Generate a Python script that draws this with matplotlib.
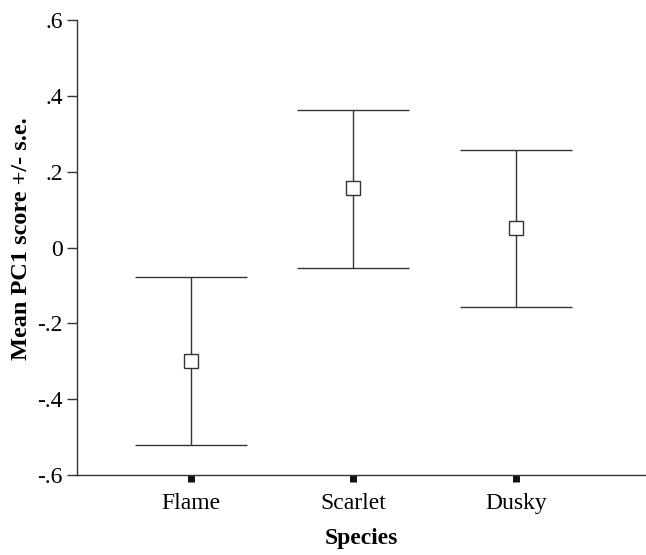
import numpy as np
import matplotlib.pyplot as plt

plt.rcParams['font.family'] = ['Liberation Serif', 'DejaVu Serif']

species = ['Flame', 'Scarlet', 'Dusky']
means = [-0.30, 0.156, 0.052]
upper = [-0.077, 0.363, 0.258]
lower = [-0.522, -0.053, -0.157]
yticks = [-0.6, -0.4, -0.2, 0, 0.2, 0.4, 0.6]
ytick_labels = ['-.6', '-.4', '-.2', '0', '.2', '.4', '.6']

means = np.array(means)
err = [means - np.array(lower), np.array(upper) - means]
x = np.arange(1, len(species) + 1)

fig = plt.figure(figsize=(6.46, 5.55), dpi=100)
ax = fig.add_axes([0.119, 0.144, 0.881, 0.82])
line_col = '#333333'

ax.errorbar(x, means, yerr=err, fmt='none', ecolor=line_col, elinewidth=1.0,
            capsize=40, capthick=1.0)
ax.plot(x, means, 's', ms=10, mfc='white', mec=line_col, mew=1.0, zorder=3)

ax.set_xlim(0.30, 3.80)
ax.set_ylim(-0.6, 0.6)
ax.set_xticks(x)
ax.set_xticklabels(species, fontsize=17)
ax.set_yticks(yticks)
ax.set_yticklabels(ytick_labels, fontsize=17)

for s in ['top', 'right']:
    ax.spines[s].set_visible(False)
for s in ['left', 'bottom']:
    ax.spines[s].set_color(line_col)
    ax.spines[s].set_linewidth(1.0)

ax.tick_params(axis='y', direction='out', length=7, width=1.0, color=line_col, pad=3)
ax.tick_params(axis='x', direction='out', length=5, width=5, color='#111111', pad=8)

ax.set_ylabel('Mean PC1 score +/- s.e.', fontsize=17.5, fontweight='bold')
ax.yaxis.set_label_coords(-0.078, 0.52)
ax.set_xlabel('Species', fontsize=17, fontweight='bold', labelpad=10)

fig.savefig('out.png', dpi=100)
